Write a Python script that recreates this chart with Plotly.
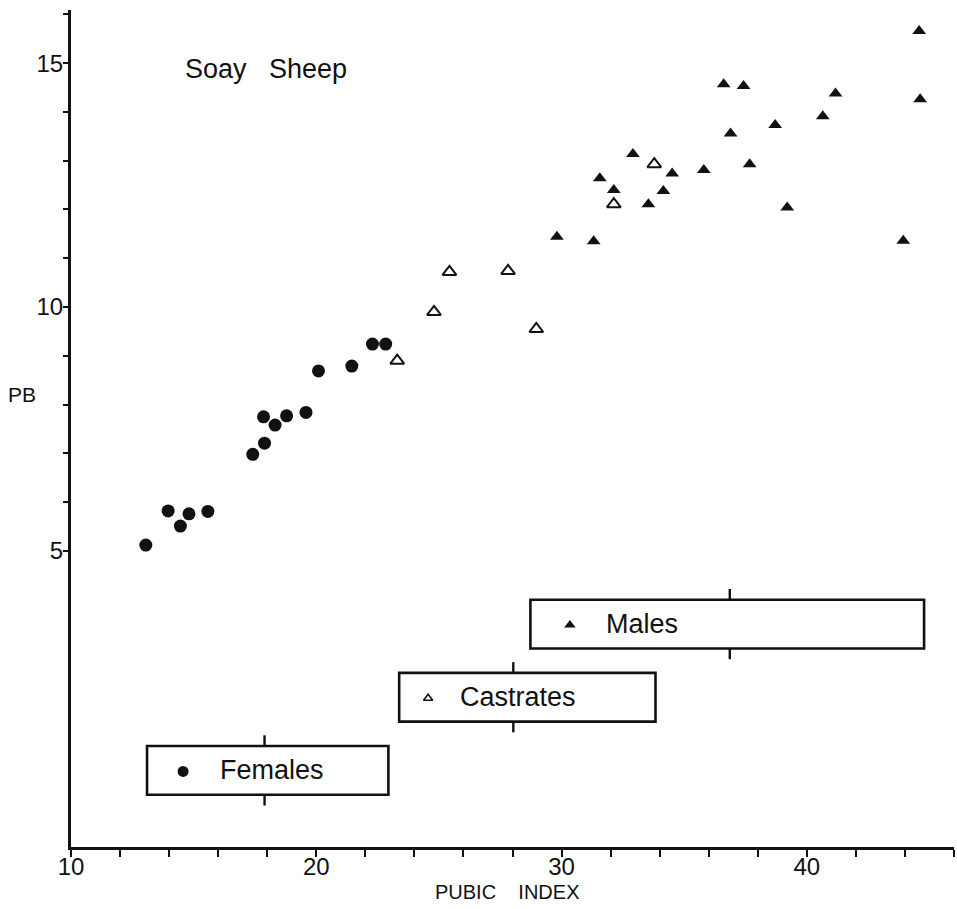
import numpy as np
import plotly.graph_objects as go

# Soay sheep pelvis: pubic index against PB, by sex class
females_x = [13.05, 13.96, 14.46, 14.81, 15.58, 17.41, 17.89, 17.85, 18.32, 18.79,
             19.58, 20.09, 21.45, 22.29, 22.83]
females_y = [5.12, 5.82, 5.51, 5.76, 5.81, 6.98, 7.21, 7.75, 7.58, 7.77,
             7.84, 8.69, 8.79, 9.24, 9.24]

castrates_x = [23.30, 24.80, 25.43, 27.82, 28.97, 32.13, 33.78]
castrates_y = [8.90, 9.90, 10.72, 10.74, 9.55, 12.11, 12.93]

males_x = [29.81, 31.31, 31.56, 32.13, 32.91, 33.54, 34.15, 34.51, 35.80, 36.61,
           36.89, 37.42, 37.67, 38.71, 39.20, 40.65, 41.17, 43.93, 44.58, 44.62]
males_y = [11.44, 11.35, 12.64, 12.40, 13.14, 12.11, 12.38, 12.74, 12.81, 14.57,
           13.56, 14.53, 12.93, 13.73, 12.04, 13.91, 14.38, 11.36, 15.66, 14.26]

group_names = ["Females", "Castrates", "Males"]
group_x = [females_x, castrates_x, males_x]
group_y = [females_y, castrates_y, males_y]

# pubic-index range bars (low, high); the cross mark sits at the group mean
range_lo = [13.10, 23.38, 28.73]
range_hi = [22.94, 33.83, 44.78]
# lower edge of each range bar on the PB scale
range_band = [0.0, 1.5, 3.0]

x_ticklabels = ["10", "20", "30", "40"]
y_ticklabels = ["5", "10", "15"]

# styling
FONT = "Liberation Sans, Arial, Helvetica, sans-serif"
INK = "#111111"
symbols = ["circle", "triangle-up-open", "triangle-up"]
point_sizes = [13, 12, 12]
key_sizes = [11, 8, 10]
key_offset = [1.47, 1.18, 1.61]     # key glyph, data units right of bar start
label_shift = [71, 59, 74]          # label start, pixels right of bar start
BAND_H = 1.0
TICK_OUT = 0.22

fig = go.Figure()

for name, xs, ys, sym, sz in zip(group_names, group_x, group_y, symbols, point_sizes):
    fig.add_trace(go.Scatter(
        x=xs, y=ys, mode="markers", name=name, showlegend=False,
        marker=dict(symbol=sym, size=sz, color=INK,
                    line=dict(color=INK, width=2 if "open" in sym else 0)),
    ))

shapes = []
annotations = []
for i, name in enumerate(group_names):
    lo, hi = range_lo[i], range_hi[i]
    mean = float(np.mean(group_x[i]))
    y0 = range_band[i]
    y1 = y0 + BAND_H
    shapes.append(dict(type="rect", xref="x", yref="y", x0=lo, x1=hi, y0=y0, y1=y1,
                       line=dict(color=INK, width=2.6), fillcolor="rgba(0,0,0,0)"))
    shapes.append(dict(type="line", xref="x", yref="y", x0=mean, x1=mean,
                       y0=y1, y1=y1 + TICK_OUT, line=dict(color=INK, width=2.4)))
    shapes.append(dict(type="line", xref="x", yref="y", x0=mean, x1=mean,
                       y0=y0 - TICK_OUT, y1=y0, line=dict(color=INK, width=2.4)))
    sym = symbols[i]
    fig.add_trace(go.Scatter(
        x=[lo + key_offset[i]], y=[y0 + BAND_H / 2 - 0.02], mode="markers",
        showlegend=False, hoverinfo="skip",
        marker=dict(symbol=sym, size=key_sizes[i], color=INK,
                    line=dict(color=INK, width=1.6 if "open" in sym else 0)),
    ))
    annotations.append(dict(x=lo, y=y0 + BAND_H / 2, xref="x", yref="y",
                            text=name, showarrow=False, xanchor="left", yanchor="middle",
                            xshift=label_shift[i], font=dict(family=FONT, size=27, color=INK)))

annotations.append(dict(x=0.127, y=0.93, xref="paper", yref="paper", text="Soay   Sheep",
                        showarrow=False, xanchor="left", yanchor="middle",
                        font=dict(family=FONT, size=27, color=INK)))
annotations.append(dict(x=-0.056, y=8.21, xref="paper", yref="y", text="PB",
                        showarrow=False, xanchor="center", yanchor="middle",
                        font=dict(family=FONT, size=21, color=INK)))
annotations.append(dict(x=0.494, y=-0.054, xref="paper", yref="paper", text="PUBIC    INDEX",
                        showarrow=False, xanchor="center", yanchor="middle",
                        font=dict(family=FONT, size=20, color=INK)))

fig.update_layout(
    width=957, height=909,
    margin=dict(l=71, r=3, t=10, b=62),
    paper_bgcolor="white", plot_bgcolor="white",
    shapes=shapes, annotations=annotations,
    font=dict(family=FONT, color=INK),
    xaxis=dict(
        range=[10, 46], showgrid=False, zeroline=False,
        showline=True, linecolor=INK, linewidth=3,
        tickmode="array", tickvals=[int(t) for t in x_ticklabels], ticktext=x_ticklabels,
        ticks="", ticklabelstandoff=-4, tickfont=dict(family=FONT, size=24, color=INK),
        minor=dict(dtick=2, tick0=10, ticks="outside", ticklen=7, tickwidth=2, tickcolor=INK),
    ),
    yaxis=dict(
        range=[-1.07, 16.09], showgrid=False, zeroline=False,
        showline=True, linecolor=INK, linewidth=3,
        tickmode="array", tickvals=[int(t) for t in y_ticklabels], ticktext=y_ticklabels,
        ticks="outside", ticklen=5, tickwidth=2, tickcolor=INK, ticklabelstandoff=-5,
        tickfont=dict(family=FONT, size=24, color=INK),
        minor=dict(tickvals=list(range(5, 17)), ticks="outside", ticklen=5,
                   tickwidth=2, tickcolor=INK),
    ),
)

fig.write_html("out.html")
